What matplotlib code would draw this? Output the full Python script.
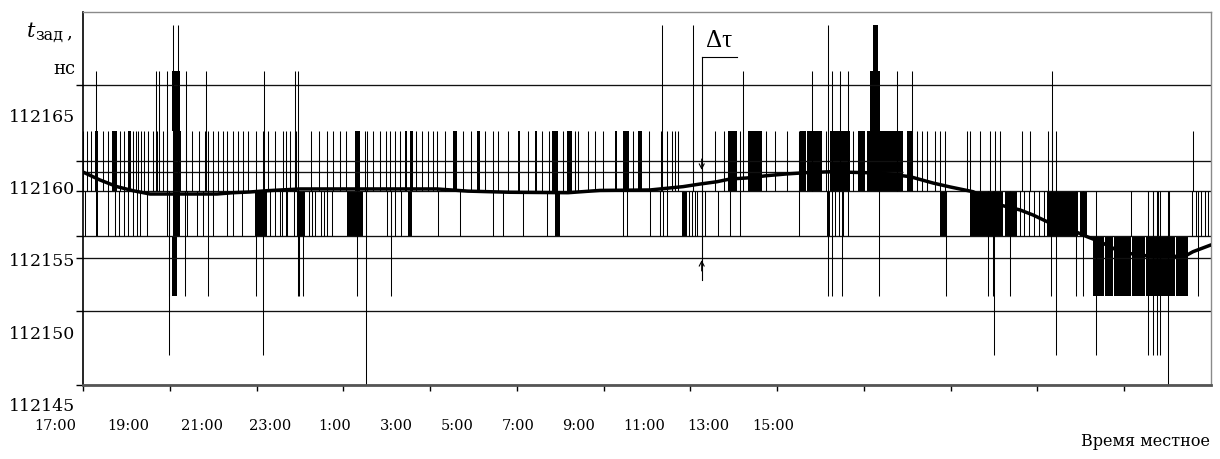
import numpy as np
import matplotlib
matplotlib.use("Agg")
import matplotlib.pyplot as plt
from matplotlib.transforms import blended_transform_factory

plt.rcParams['font.family'] = ['DejaVu Serif']

# ---------------------------------------------------------------- data
# x: measurement number (1128 samples cover 26 h starting at 17:00)
N_SAMPLES = 1128
N_TICK_INTERVALS = 13          # one tick every 2 h

time_labels = ['17:00', '19:00', '21:00', '23:00', '1:00', '3:00', '5:00',
               '7:00', '9:00', '11:00', '13:00', '15:00']
y_labels = ['112165', '112160', '112155', '112150', '112145']
y_label_values = [112165, 112160, 112155, 112150, 112145]

# reference (grid) levels, ns
grid_levels = [112167.24, 112161.98, 112159.91, 112156.80, 112155.28, 112151.61]
y_bottom, y_top = 112146.49, 112172.31
mark_level = 112161.22                 # upper edge of the delta-tau interval
mark_end = 820                         # sample where that line stops

# quantised delay readings, ns
TOP2 = 112171.39
TOP1 = 112168.21
HI = 112164.06
BASE = 112159.91
LO = 112156.80
LO2 = 112152.65
LO3 = 112148.57
DEEP = 112144.00

# single readings (sample numbers) jumping from BASE to the given level
up_hi = [0, 4, 8, 20, 25, 37, 41, 50, 53, 55, 58, 61, 65, 70, 74, 80, 84, 103,
         109, 116, 122, 125, 130, 135, 140, 144, 150, 155, 160, 165, 173, 180,
         185, 192, 200, 203, 207, 212, 213, 215, 228, 236, 244, 250, 257, 263,
         282, 284, 290, 297, 303, 307, 312, 317, 333, 339, 345, 350, 354, 362,
         380, 388, 402, 410, 415, 425, 445, 459, 466, 480, 492, 495, 505, 512,
         520, 550, 566, 578, 584, 589, 592, 595, 610, 632, 641, 657, 683, 692,
         704, 716, 743, 770, 834, 839, 844, 852, 857, 862, 884, 887, 897, 907,
         912, 917, 939, 947, 965, 969, 973, 1110]
up_top1 = [13, 73, 76, 84, 103, 123, 181, 212, 215, 660, 729, 749, 757, 765,
           814, 829, 969]
up_top2 = [90, 95, 579, 610, 745]
down_lo = [2, 25, 32, 36, 41, 45, 50, 54, 57, 64, 84, 104, 114, 120, 130, 144,
           150, 159, 187, 192, 197, 199, 203, 204, 211, 214, 226, 229, 232, 238,
           241, 244, 249, 283, 304, 308, 312, 318, 355, 377, 410, 420, 440, 464,
           540, 544, 567, 577, 580, 584, 606, 609, 612, 614, 622, 635, 647, 657,
           716, 752, 756, 760, 765, 937, 941, 946, 951, 956, 961, 1109, 1113,
           1118, 1122, 1125]
down_lo2 = [86, 102, 125, 173, 215, 216, 220, 274, 308, 745, 749, 759, 796, 863,
            905, 910, 927, 968, 993, 1000, 1115]
down_lo3 = [86, 180, 911, 973, 1013, 1065, 1070, 1074, 1077]
down_deep = [283, 1085]
# readings jumping from LO back up to BASE in the late low-delay stretch
lo_up_base = [1048, 1065, 1070, 1075, 1086]

# stretches of rapid toggling between two levels (start, end sample)
blocks_hi = [(12, 15), (29, 34), (45, 48), (90, 98), (272, 277), (322, 324),
             (327, 330), (370, 374), (394, 397), (435, 437), (452, 454),
             (469, 475), (484, 489), (532, 534), (540, 546), (555, 559),
             (645, 654), (665, 679), (717, 723), (724, 739), (747, 767),
             (775, 782), (784, 820), (824, 830)]
blocks_top1 = [(89, 97), (787, 797)]
blocks_top2 = [(790, 795)]
blocks_lo = [(13, 15), (90, 97), (172, 184), (215, 222), (264, 280), (325, 329),
             (472, 477), (599, 604), (744, 747), (857, 864), (887, 897),
             (892, 920), (922, 934), (964, 995), (997, 1004)]
blocks_lo2 = [(89, 94)]
blocks_low_band = [(1010, 1021), (1022, 1030), (1031, 1048), (1049, 1062),
                   (1063, 1077), (1078, 1092), (1093, 1105)]

# smoothed delay (running mean)
trend_n = [0, 17, 34, 50, 67, 134, 150, 167, 184, 217, 354, 385, 427, 485, 517,
           567, 600, 617, 634, 647, 664, 684, 704, 724, 747, 797, 827, 850, 867,
           890, 917, 937, 950, 964, 984, 1004, 1017, 1037, 1050, 1070, 1090,
           1104, 1110, 1128]
trend_ns = [112161.22, 112160.67, 112160.21, 112159.93, 112159.70, 112159.70,
            112159.79, 112159.84, 112159.93, 112160.05, 112160.05, 112159.90,
            112159.82, 112159.79, 112159.95, 112159.98, 112160.21, 112160.39,
            112160.55, 112160.74, 112160.81, 112160.97, 112161.09, 112161.18,
            112161.24, 112161.15, 112160.90, 112160.46, 112160.19, 112159.86,
            112158.94, 112158.60, 112158.25, 112157.79, 112157.35, 112156.75,
            112156.40, 112155.71, 112155.55, 112155.37, 112155.37, 112155.48,
            112155.71, 112156.18]

# delta-tau dimension line
dtau_n = 618.7
dtau_label_n = (618.7, 653.7)
dtau_top, dtau_bottom = 112161.22, 112155.28

# ---------------------------------------------------------------- figure
W, H = 1220, 459
fig = plt.figure(figsize=(W / 100, H / 100), dpi=100)
ax = fig.add_axes([83 / W, 74 / H, 1128 / W, 373.3 / H])
ax.set_xlim(0, N_SAMPLES)
ax.set_ylim(y_bottom, y_top)

ink = 'black'
lw_sp = 0.75

# grid and partial mark line
ax.set_yticks(grid_levels + [y_bottom])
ax.set_yticklabels([])
ax.yaxis.grid(True, color='#111111', lw=0.95)
ax.hlines(mark_level, 0, mark_end, colors='#111111', lw=0.95)

# toggling stretches
def draw_blocks(blocks, lo, hi):
    left = [b[0] for b in blocks]
    width = [b[1] - b[0] for b in blocks]
    ax.bar(left, hi - lo, width=width, bottom=lo, align='edge', color=ink,
           linewidth=0)

draw_blocks(blocks_hi, BASE, HI)
draw_blocks(blocks_top1, HI, TOP1)
draw_blocks(blocks_top2, TOP1, TOP2)
draw_blocks(blocks_lo, LO, BASE)
draw_blocks(blocks_lo2, LO2, LO)
draw_blocks(blocks_low_band, LO2, LO)

# single readings
ax.vlines(up_hi, BASE, HI, colors=ink, lw=lw_sp)
ax.vlines(up_top1, BASE, TOP1, colors=ink, lw=lw_sp)
ax.vlines(up_top2, BASE, TOP2, colors=ink, lw=lw_sp)
ax.vlines(down_lo, LO, BASE, colors=ink, lw=lw_sp)
ax.vlines(down_lo2, LO2, BASE, colors=ink, lw=lw_sp)
ax.vlines(down_lo3, LO3, BASE, colors=ink, lw=lw_sp)
ax.vlines(down_deep, DEEP, BASE, colors=ink, lw=lw_sp)
ax.vlines(lo_up_base, LO, BASE, colors=ink, lw=lw_sp)

# running mean
ax.plot(trend_n, trend_ns, color=ink, lw=2.5, solid_capstyle='round', zorder=5)

# delta-tau dimension
label_y = 112169.18
ax.plot([dtau_n, dtau_n], [label_y, 112153.76], color=ink, lw=0.8, zorder=6)
ax.plot(list(dtau_label_n), [label_y, label_y], color=ink, lw=0.8, zorder=6)
ax.annotate('', xy=(dtau_n, dtau_top + 0.15), xytext=(dtau_n, dtau_top + 0.9),
            arrowprops=dict(arrowstyle='->,head_length=0.35,head_width=0.18',
                            lw=0.8, color=ink, shrinkA=0, shrinkB=0), zorder=7)
ax.annotate('', xy=(dtau_n, dtau_bottom - 0.15), xytext=(dtau_n, dtau_bottom - 0.9),
            arrowprops=dict(arrowstyle='->,head_length=0.35,head_width=0.18',
                            lw=0.8, color=ink, shrinkA=0, shrinkB=0), zorder=7)
ax.text(sum(dtau_label_n) / 2, 112170.3, 'Δτ', ha='center', va='center',
        fontsize=18, family=['Liberation Serif', 'DejaVu Serif'])

# axes frame
for side in ('top', 'right'):
    ax.spines[side].set_color('#8a8a8a')
    ax.spines[side].set_linewidth(1.0)
ax.spines['left'].set_color(ink)
ax.spines['left'].set_linewidth(1.2)
ax.spines['bottom'].set_color('#555555')
ax.spines['bottom'].set_linewidth(2.0)

ax.set_xticks(np.arange(N_TICK_INTERVALS) * N_SAMPLES / N_TICK_INTERVALS)
ax.set_xticklabels([])
ax.tick_params(axis='x', direction='out', length=4, width=1.0, color=ink)
ax.tick_params(axis='y', direction='out', length=5, width=1.0, color=ink)

# y labels at their values
yt = blended_transform_factory(ax.transAxes, ax.transData)
for lab, val in zip(y_labels, y_label_values):
    ax.text(-0.0071, val, lab, transform=yt, ha='right', va='center',
            fontsize=12.5, clip_on=False)

# time labels
time_label_px = [55, 128.5, 201.5, 270, 335, 396, 457, 518, 579, 644, 708.5, 773]
for lab, px in zip(time_labels, time_label_px):
    fig.text(px / W, 1 - 426 / H, lab, ha='center', va='center', fontsize=10.5)
fig.text(1210 / W, 1 - 442 / H, 'Время местное', ha='right', va='center',
         fontsize=11.5)

# axis title
fig.text(27 / W, 1 - 37 / H, 't', fontsize=15, style='italic', va='baseline')
fig.text(35 / W, 1 - 40 / H, 'зад', fontsize=11.5, va='baseline')
fig.text(66 / W, 1 - 37 / H, ',', fontsize=13, va='baseline')
fig.text(75 / W, 1 - 69 / H, 'нс', fontsize=13, ha='right', va='center')

fig.savefig('out.png', dpi=100)
